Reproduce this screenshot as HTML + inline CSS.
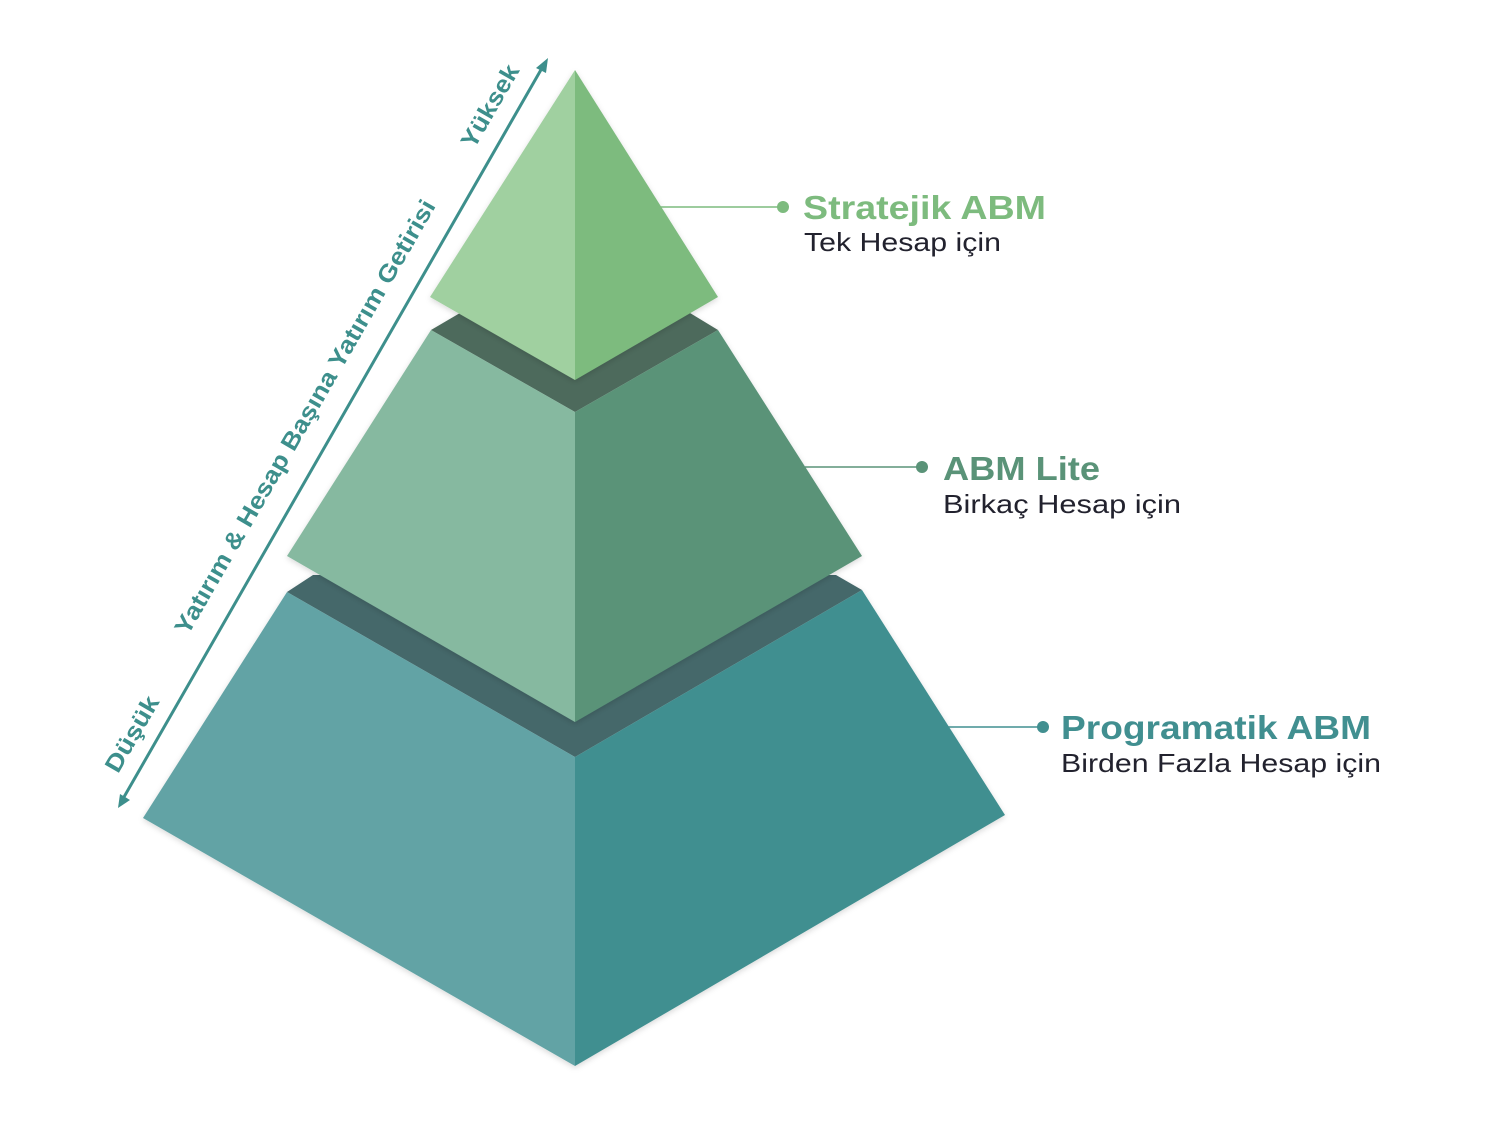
<!DOCTYPE html>
<html><head><meta charset="utf-8"><style>
html,body{margin:0;padding:0;background:#fff;}
svg{display:block;}
.t{font-family:"Liberation Sans",sans-serif;}
</style></head><body>
<svg width="1508" height="1126" viewBox="0 0 1508 1126" xmlns="http://www.w3.org/2000/svg">
<defs>
<filter id="sh" x="-10%" y="-10%" width="120%" height="120%"><feDropShadow dx="0" dy="2" stdDeviation="3" flood-color="#000" flood-opacity="0.15"/></filter>
</defs>
<g filter="url(#sh)">
<polygon points="287,592 313,575 836,575 862,590 575,757" fill="#44686a"/>
<polygon points="287,592 143,818 575,1066 575,757" fill="#62a3a5"/>
<polygon points="575,757 862,590 1005,815 575,1066" fill="#418f90"/>
</g>
<g filter="url(#sh)">
<polygon points="431,330 460,313 690,313 718,330 575,412" fill="#4e6b5c"/>
<polygon points="431,330 287,556 575,722 575,412" fill="#86b9a0"/>
<polygon points="575,412 718,330 862,556 575,722" fill="#5a9378"/>
</g>
<g filter="url(#sh)">
<polygon points="575,70 430,297 575,380" fill="#a0d0a0"/>
<polygon points="575,70 718,297 575,380" fill="#7dbb7e"/>
</g>
<line x1="124" y1="797" x2="542" y2="68" stroke="#3d8f8c" stroke-width="3"/>
<polygon points="548,58 536,68 546,73" fill="#3d8f8c"/>
<polygon points="118,808 120,794 130,800" fill="#3d8f8c"/>
<g class="t" fill="#3d8f8c" font-weight="bold" font-size="24">
<text transform="translate(312,421) rotate(-60)" text-anchor="middle" textLength="497" lengthAdjust="spacingAndGlyphs">Yatırım &amp; Hesap Başına Yatırım Getirisi</text>
<text transform="translate(497,110) rotate(-60)" text-anchor="middle" textLength="92" lengthAdjust="spacingAndGlyphs">Yüksek</text>
<text transform="translate(139,738) rotate(-60)" text-anchor="middle" textLength="84" lengthAdjust="spacingAndGlyphs">Düşük</text>
</g>
<line x1="660" y1="207" x2="783" y2="207" stroke="#7dbb7e" stroke-width="1.5"/>
<circle cx="783" cy="207" r="6" fill="#7dbb7e"/>
<text class="t" x="803" y="219" font-size="33" font-weight="bold" fill="#7dbb7e" textLength="243" lengthAdjust="spacingAndGlyphs">Stratejik ABM</text>
<text class="t" x="804" y="251" font-size="26" fill="#22222e" textLength="197" lengthAdjust="spacingAndGlyphs">Tek Hesap için</text>

<line x1="805" y1="467" x2="922" y2="467" stroke="#5a9378" stroke-width="1.5"/>
<circle cx="922" cy="467" r="6" fill="#5a9378"/>
<text class="t" x="943" y="480" font-size="33" font-weight="bold" fill="#5a9378" textLength="157" lengthAdjust="spacingAndGlyphs">ABM Lite</text>
<text class="t" x="943" y="513" font-size="26" fill="#22222e" textLength="238" lengthAdjust="spacingAndGlyphs">Birkaç Hesap için</text>

<line x1="948" y1="727" x2="1043" y2="727" stroke="#418f90" stroke-width="1.5"/>
<circle cx="1043" cy="727" r="6" fill="#418f90"/>
<text class="t" x="1061" y="739" font-size="33" font-weight="bold" fill="#418f90" textLength="310" lengthAdjust="spacingAndGlyphs">Programatik ABM</text>
<text class="t" x="1061" y="772" font-size="26" fill="#22222e" textLength="320" lengthAdjust="spacingAndGlyphs">Birden Fazla Hesap için</text>
</svg>
</body></html>
